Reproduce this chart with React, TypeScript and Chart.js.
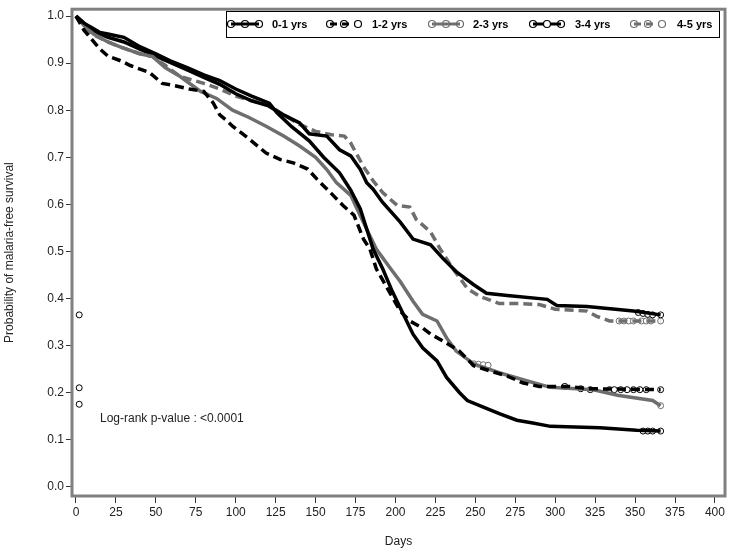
import React, { useEffect, useRef } from "react";
import { Chart, registerables } from "chart.js";

Chart.register(...registerables);

// ---- Data ----
const seriesLabels = ["0-1 yrs", "1-2 yrs", "2-3 yrs", "3-4 yrs", "4-5 yrs"];

const days01 = [0, 5, 10, 15, 20, 30, 40, 50, 59, 70, 80, 90, 100, 110, 121, 126, 135, 146, 155, 165, 172, 178, 186, 192, 198, 205, 211, 217, 226, 232, 240, 245, 255, 265, 276, 286, 297, 328, 351, 366];
const surv01 = [1.0, 0.985, 0.975, 0.965, 0.962, 0.955, 0.935, 0.92, 0.905, 0.89, 0.875, 0.863, 0.845, 0.83, 0.815, 0.794, 0.765, 0.735, 0.7, 0.667, 0.63, 0.59, 0.505, 0.463, 0.415, 0.366, 0.324, 0.295, 0.267, 0.232, 0.2, 0.183, 0.169, 0.155, 0.141, 0.135, 0.128, 0.125, 0.12, 0.118];

const days12 = [0, 5, 10, 15, 20, 28, 34, 46, 54, 62, 71, 80, 86, 90, 94, 98, 108, 119, 128, 136, 145, 151, 161, 167, 174, 180, 184, 188, 195, 203, 209, 217, 222, 230, 240, 249, 259, 270, 280, 290, 309, 320, 366];
const surv12 = [1.0, 0.97, 0.95, 0.93, 0.915, 0.905, 0.895, 0.88, 0.857, 0.852, 0.845, 0.84, 0.815, 0.79, 0.779, 0.766, 0.74, 0.709, 0.695, 0.688, 0.675, 0.653, 0.619, 0.598, 0.577, 0.526, 0.505, 0.463, 0.421, 0.373, 0.352, 0.337, 0.324, 0.309, 0.288, 0.257, 0.246, 0.235, 0.22, 0.213, 0.213, 0.208, 0.206];

const days23 = [0, 5, 11, 20, 28, 40, 48, 56, 65, 78, 88, 98, 108, 119, 130, 140, 150, 157, 163, 172, 176, 182, 188, 197, 203, 211, 217, 226, 232, 238, 249, 265, 282, 297, 324, 339, 361, 366];
const surv23 = [1.0, 0.98, 0.962, 0.945, 0.934, 0.92, 0.914, 0.89, 0.872, 0.84, 0.825, 0.8, 0.785, 0.766, 0.745, 0.724, 0.7, 0.674, 0.646, 0.619, 0.59, 0.547, 0.505, 0.463, 0.436, 0.394, 0.366, 0.352, 0.316, 0.288, 0.261, 0.242, 0.225, 0.211, 0.206, 0.194, 0.183, 0.172];

const days34 = [0, 10, 20, 30, 40, 50, 60, 70, 80, 90, 100, 110, 120, 130, 140, 146, 157, 165, 172, 178, 182, 186, 192, 203, 211, 222, 230, 238, 249, 257, 270, 295, 301, 320, 349, 366];
const surv34 = [1.0, 0.97, 0.955, 0.945, 0.93, 0.915, 0.9, 0.885, 0.87, 0.855, 0.835, 0.82, 0.81, 0.79, 0.773, 0.75, 0.745, 0.716, 0.703, 0.674, 0.646, 0.632, 0.604, 0.562, 0.526, 0.514, 0.484, 0.457, 0.429, 0.411, 0.406, 0.398, 0.385, 0.383, 0.373, 0.365];

const days45 = [0, 5, 10, 20, 28, 40, 48, 56, 65, 72, 80, 90, 101, 110, 121, 130, 140, 150, 160, 168, 172, 180, 186, 192, 201, 209, 213, 222, 228, 236, 245, 253, 265, 278, 290, 300, 320, 326, 334, 366];
const surv45 = [1.0, 0.975, 0.962, 0.945, 0.934, 0.92, 0.914, 0.895, 0.872, 0.865, 0.857, 0.845, 0.829, 0.82, 0.81, 0.79, 0.77, 0.755, 0.748, 0.745, 0.73, 0.68, 0.65, 0.625, 0.598, 0.594, 0.568, 0.541, 0.505, 0.463, 0.421, 0.404, 0.389, 0.389, 0.387, 0.377, 0.373, 0.362, 0.352, 0.352];

// censored observations (open circles)
const cens01Days = [2, 355, 358, 361, 366];
const cens01Surv = [0.175, 0.118, 0.118, 0.118, 0.118];
const cens12Days = [2, 306, 316, 322, 334, 337, 341, 345, 349, 353, 357, 366];
const cens12Surv = [0.21, 0.213, 0.208, 0.206, 0.206, 0.206, 0.206, 0.206, 0.206, 0.206, 0.206, 0.206];
const cens23Days = [249, 252, 255, 258, 366];
const cens23Surv = [0.261, 0.26, 0.259, 0.258, 0.172];
const cens34Days = [2, 352, 355, 358, 361, 366];
const cens34Surv = [0.365, 0.37, 0.368, 0.366, 0.365, 0.365];
const cens45Days = [340, 343, 346, 349, 354, 357, 360, 366];
const cens45Surv = [0.352, 0.352, 0.352, 0.352, 0.352, 0.352, 0.352, 0.352];

const yTicks = [0, 0.1, 0.2, 0.3, 0.4, 0.5, 0.6, 0.7, 0.8, 0.9, 1.0];
const xTicks = [0, 25, 50, 75, 100, 125, 150, 175, 200, 225, 250, 275, 300, 325, 350, 375, 400];

const BLACK = "#000000";
const GRAY = "#6e6e6e";
const FONT = "'Liberation Sans', Arial, sans-serif";

const styles = [
  { color: BLACK, dash: [] as number[] },
  { color: BLACK, dash: [9, 5] },
  { color: GRAY, dash: [] as number[] },
  { color: BLACK, dash: [] as number[] },
  { color: GRAY, dash: [9, 5] },
];

const toXY = (d: number[], s: number[]) => d.map((x, i) => ({ x, y: s[i] }));

export default function App() {
  const ref = useRef<HTMLCanvasElement | null>(null);

  useEffect(() => {
    if (!ref.current) return;
    const lines = [
      toXY(days01, surv01),
      toXY(days12, surv12),
      toXY(days23, surv23),
      toXY(days34, surv34),
      toXY(days45, surv45),
    ];
    const cens = [
      toXY(cens01Days, cens01Surv),
      toXY(cens12Days, cens12Surv),
      toXY(cens23Days, cens23Surv),
      toXY(cens34Days, cens34Surv),
      toXY(cens45Days, cens45Surv),
    ];

    const datasets: any[] = [];
    lines.forEach((data, i) => {
      datasets.push({
        type: "line",
        label: seriesLabels[i],
        data,
        borderColor: styles[i].color,
        borderDash: styles[i].dash,
        borderWidth: 3.5,
        pointRadius: 0,
        tension: 0,
        fill: false,
      });
    });
    cens.forEach((data, i) => {
      datasets.push({
        type: "scatter",
        label: seriesLabels[i] + " censored",
        data,
        showLine: false,
        pointRadius: 3,
        pointBackgroundColor: "#ffffff",
        pointBorderColor: styles[i].color,
        pointBorderWidth: 1,
      });
    });

    const framePlugin = {
      id: "frameAndLegend",
      afterDatasetsDraw(chart: any) {
        const { ctx, chartArea } = chart;
        ctx.save();
        // frame
        ctx.strokeStyle = "#808080";
        ctx.lineWidth = 3;
        ctx.strokeRect(chartArea.left, chartArea.top, chartArea.right - chartArea.left, chartArea.bottom - chartArea.top);

        // log-rank text
        ctx.fillStyle = "#222";
        ctx.font = "12px " + FONT;
        ctx.textAlign = "left";
        ctx.textBaseline = "middle";
        ctx.fillText("Log-rank p-value : <0.0001", 100, 419);

        // legend box
        const bx = 226, by = 11, bw = 493, bh = 26;
        ctx.fillStyle = "#ffffff";
        ctx.fillRect(bx, by, bw, bh);
        ctx.strokeStyle = "#000000";
        ctx.lineWidth = 1;
        ctx.strokeRect(bx + 0.5, by + 0.5, bw, bh);
        const circX = [231, 330, 432, 533, 634];
        const textX = [272, 372, 473, 575, 677];
        const cy = 24;
        seriesLabels.forEach((lab, i) => {
          const x0 = circX[i];
          ctx.strokeStyle = styles[i].color;
          ctx.lineWidth = 3;
          ctx.setLineDash(styles[i].dash.length ? [7, 5] : []);
          ctx.beginPath();
          ctx.moveTo(x0, cy);
          ctx.lineTo(x0 + 28, cy);
          ctx.stroke();
          ctx.setLineDash([]);
          [0, 14, 28].forEach((dx, k) => {
            ctx.beginPath();
            ctx.arc(x0 + dx, cy, 3.5, 0, Math.PI * 2);
            const white = (i === 3 && k === 1) || ((i === 1 || i === 4) && k === 2);
            if (white) {
              ctx.fillStyle = "#ffffff";
              ctx.fill();
            }
            ctx.lineWidth = 1.2;
            ctx.strokeStyle = styles[i].color;
            ctx.stroke();
          });
          ctx.fillStyle = "#000";
          ctx.font = "bold 11px " + FONT;
          ctx.textAlign = "left";
          ctx.textBaseline = "middle";
          ctx.fillText(lab, textX[i], cy + 0.5);
        });
        ctx.restore();
      },
    };

    const chart = new Chart(ref.current, {
      type: "line",
      data: { datasets },
      options: {
        animation: false,
        responsive: false,
        maintainAspectRatio: false,
        layout: { padding: { top: 5, right: 5, left: 0, bottom: 0 } },
        plugins: { legend: { display: false }, tooltip: { enabled: false } },
        scales: {
          x: {
            type: "linear",
            min: -2.5,
            max: 406.3,
            afterBuildTicks: (s: any) => { s.ticks = xTicks.map((v) => ({ value: v })); },
            afterFit: (s: any) => { s.height = 57; },
            grid: { display: true, drawOnChartArea: false, drawTicks: true, tickLength: 7, color: "#333" },
            border: { display: false },
            ticks: {
              color: "#222",
              font: { family: FONT, size: 12 },
              padding: 2,
              maxRotation: 0,
              autoSkip: false,
              callback: (v: any) => String(v),
            },
            title: { display: true, text: "Days", color: "#222", font: { family: FONT, size: 12 }, padding: { top: 8, bottom: 4 } },
          },
          y: {
            type: "linear",
            min: -0.02,
            max: 1.0147,
            afterBuildTicks: (s: any) => { s.ticks = yTicks.map((v) => ({ value: v })); },
            afterFit: (s: any) => { s.width = 72; },
            grid: { display: true, drawOnChartArea: false, drawTicks: true, tickLength: 6, color: "#333" },
            border: { display: false },
            ticks: {
              color: "#222",
              font: { family: FONT, size: 12 },
              padding: 2,
              autoSkip: false,
              callback: (v: any) => Number(v).toFixed(1),
            },
            title: { display: true, text: "Probability of malaria-free survival", color: "#222", font: { family: FONT, size: 12 }, padding: { top: 2, bottom: 0 } },
          },
        },
      },
      plugins: [framePlugin],
    } as any);
    return () => chart.destroy();
  }, []);

  return (
    <div style={{ position: "absolute", left: 0, top: 0, width: 730, height: 553, background: "#fff" }}>
      <canvas ref={ref} width={730} height={553} style={{ width: 730, height: 553, display: "block" }} />
    </div>
  );
}
